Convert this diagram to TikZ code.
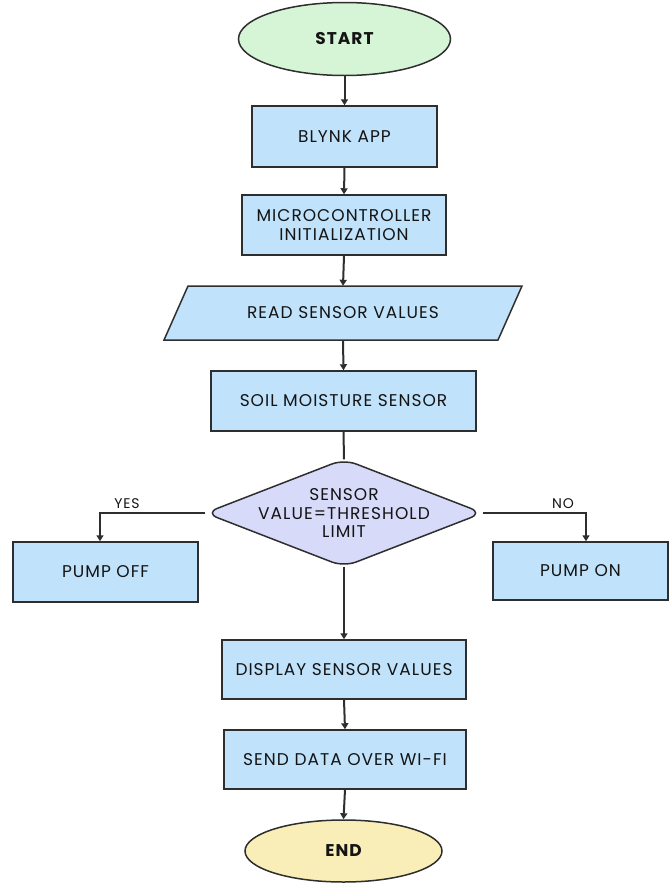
\documentclass[tikz,border=0pt]{standalone}
\usepackage{fontspec}
\setmainfont{Poppins}[LetterSpace=6]
\usetikzlibrary{shapes.geometric,arrows.meta}
\definecolor{startfill}{HTML}{D6F5D6}
\definecolor{boxfill}{HTML}{C0E3FB}
\definecolor{diafill}{HTML}{D8DAF9}
\definecolor{endfill}{HTML}{F9EEB8}
\definecolor{edge}{HTML}{2E2E2E}
\begin{document}
\begin{tikzpicture}[x=1pt,y=-1pt,
  every node/.style={font=\fontsize{17}{18.5}\selectfont, text=black!92},
  procbox/.style={draw=edge, line width=1.5pt, fill=boxfill, rectangle, inner sep=0pt, align=center},
  termnode/.style={draw=edge, line width=1.5pt, ellipse, inner sep=0pt, font=\fontsize{17}{18.5}\selectfont\bfseries},
  ghost/.style={rectangle, inner sep=0pt, align=center},
  conn/.style={draw=edge, line width=2pt, -{Triangle[length=6pt,width=7pt]}},
  lbl/.style={font=\fontsize{14}{16}\selectfont}
]
\useasboundingbox (0,0) rectangle (669,884);

\node[termnode, fill=startfill, minimum width=212pt, minimum height=73pt] (start) at (344.5,39) {START};
\node[procbox, minimum width=185pt, minimum height=61pt] (blynk) at (344.5,136.5) {BLYNK APP};
\node[procbox, minimum width=204pt, minimum height=60pt] (micro) at (344,225) {MICROCONTROLLER\\INITIALIZATION};

\coordinate (rtl) at (188,286);
\coordinate (rtr) at (522,286);
\coordinate (rbr) at (498,340);
\coordinate (rbl) at (164,340);
\filldraw[draw=edge, line width=1.5pt, fill=boxfill, line join=miter] (rtl) -- (rtr) -- (rbr) -- (rbl) -- cycle;
\node[ghost, minimum width=300pt, minimum height=54pt] (read) at (343,313) {READ SENSOR VALUES};

\node[procbox, minimum width=265pt, minimum height=60pt] (soil) at (343.5,401) {SOIL MOISTURE SENSOR};

\node[ghost, minimum width=277pt, minimum height=107pt] (dia) at (344,513) {};
\filldraw[draw=edge, line width=1.5pt, fill=diafill, rounded corners=13pt] (dia.west) -- (dia.north) -- (dia.east) -- (dia.south) -- cycle;
\node[ghost] (diatext) at (344,513) {SENSOR\\VALUE=THRESHOLD\\LIMIT};

\node[procbox, minimum width=185pt, minimum height=60pt] (poff) at (105.5,572) {PUMP OFF};
\node[procbox, minimum width=175pt, minimum height=58pt] (pon) at (580.5,571) {PUMP ON};

\node[procbox, minimum width=244pt, minimum height=59pt] (disp) at (344,669.5) {DISPLAY SENSOR VALUES};
\node[procbox, minimum width=242pt, minimum height=59pt] (send) at (345,759.5) {SEND DATA OVER WI-FI};
\node[termnode, fill=endfill, minimum width=197pt, minimum height=62pt] (end) at (343.5,851) {END};

\coordinate (yesc) at (100,513);
\coordinate (noc) at (586,513);

\draw[conn] (start.south) -- (blynk.north);
\draw[conn] (blynk.south) -- (micro.north);
\draw[conn] (micro.south) -- (read.north);
\draw[conn] (read.south) -- (soil.north);
\draw[draw=edge, line width=2pt] (soil.south) -- (dia.north);
\draw[conn] (dia.west) -- (yesc) -- (yesc |- poff.north);
\draw[conn] (dia.east) -- (noc) -- (noc |- pon.north);
\draw[conn] (dia.south) -- (disp.north);
\draw[conn] (disp.south) -- (send.north);
\draw[conn] (send.south) -- (end.north);

\node[lbl] (yes) at (127,504) {YES};
\node[lbl] (no) at (563,504) {NO};
\end{tikzpicture}
\end{document}
